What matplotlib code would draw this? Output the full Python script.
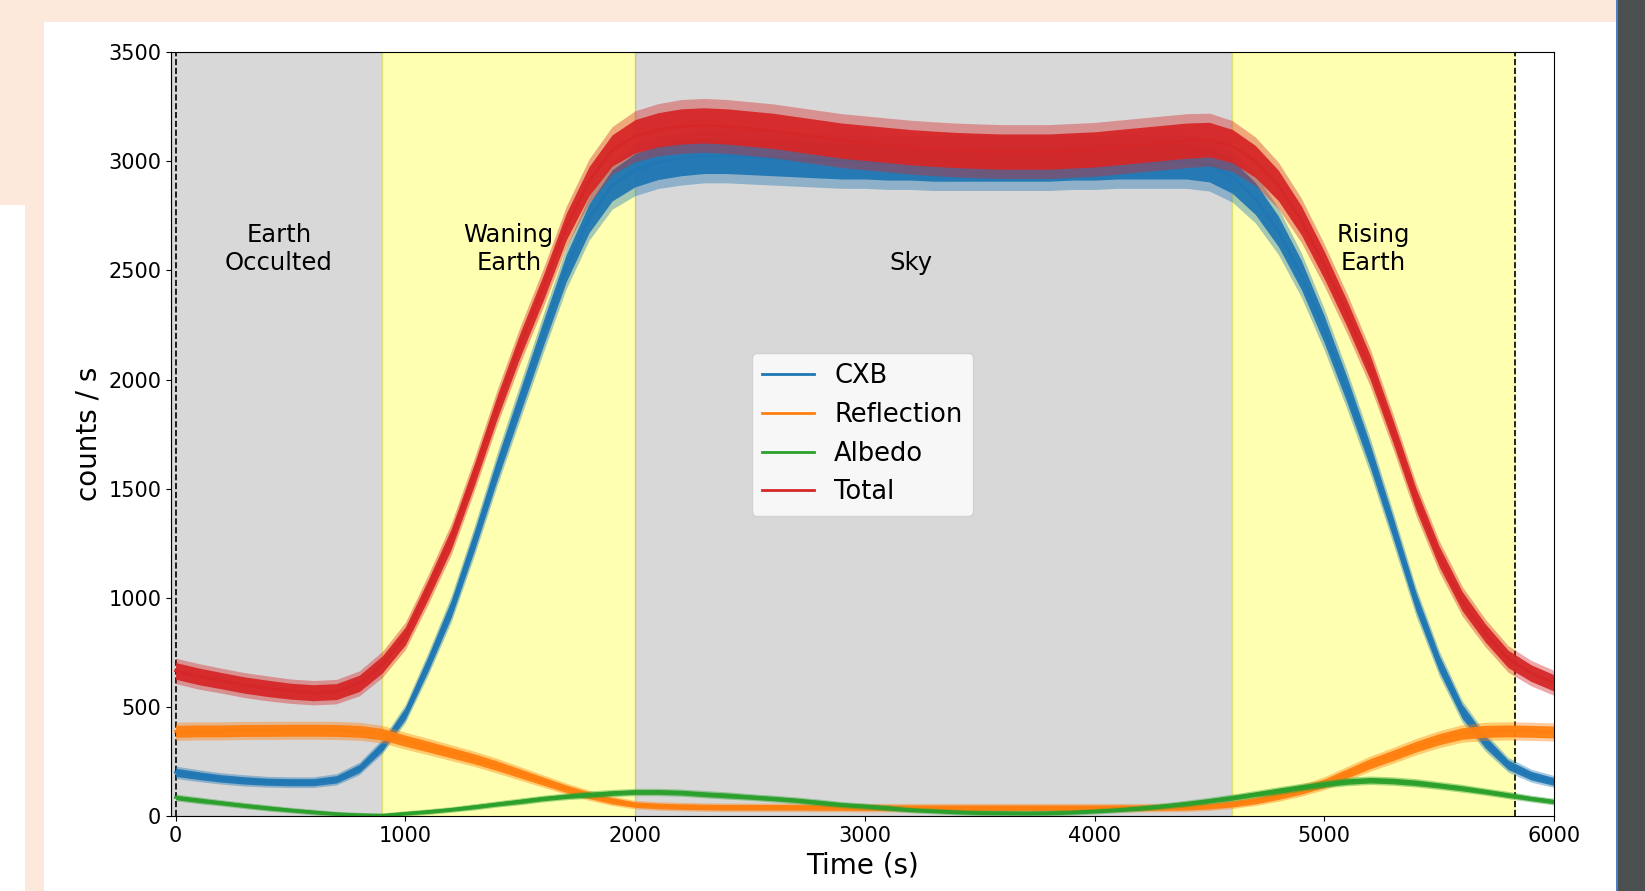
# -*- coding: utf-8 -*-
"""
Count rates through one orbit: CXB, reflection, albedo and total
"""
import numpy as np
import matplotlib.pyplot as plt
from matplotlib.patches import Rectangle

# time grid (s), one reading every 100 s
time_s = np.arange(0, 6001, 100)

# count rates (counts / s)
cxb = [200, 185, 172, 163, 157, 155, 155, 168, 218, 320,
       470, 700, 950, 1260, 1590, 1900, 2210, 2510, 2740, 2890,
       2960, 2995, 3015, 3025, 3025, 3020, 3015, 3010, 3005, 3000,
       3000, 2995, 2995, 2990, 2990, 2990, 2990, 2990, 2990, 2995,
       2995, 3000, 3000, 3000, 3000, 2985, 2930, 2830, 2680, 2480,
       2230, 1950, 1650, 1320, 980, 700, 480, 340, 235, 185,
       158]
reflection = [388, 390, 390, 392, 392, 393, 393, 392, 388, 375,
              345, 318, 290, 262, 230, 195, 160, 125, 95, 70,
              52, 46, 43, 41, 40, 40, 40, 40, 39, 39,
              38, 38, 38, 38, 38, 38, 38, 38, 38, 38,
              38, 38, 38, 39, 40, 45, 55, 70, 92, 118,
              150, 195, 240, 278, 318, 352, 378, 388, 390, 388,
              385]
albedo = [85, 72, 60, 48, 37, 27, 18, 10, 5, 3,
          12, 20, 30, 42, 55, 67, 80, 90, 98, 105,
          110, 110, 107, 100, 94, 87, 80, 72, 62, 52,
          45, 37, 28, 23, 18, 15, 14, 13, 14, 17,
          22, 28, 36, 46, 57, 70, 84, 100, 116, 132,
          146, 158, 164, 160, 152, 140, 127, 112, 96, 80,
          66]
total = [665, 640, 620, 600, 585, 572, 565, 570, 608, 695,
         825, 1040, 1270, 1564, 1875, 2160, 2420, 2700, 2910, 3050,
         3115, 3145, 3160, 3165, 3160, 3150, 3140, 3125, 3110, 3095,
         3085, 3075, 3065, 3058, 3052, 3048, 3045, 3045, 3045, 3050,
         3055, 3065, 3075, 3085, 3095, 3100, 3070, 3000, 2890, 2730,
         2525, 2300, 2055, 1760, 1450, 1190, 985, 840, 720, 655,
         610]

# half width of the noisy band around each curve
cxb_noise = [22, 21, 20, 20, 19, 19, 19, 20, 22, 26,
             32, 40, 46, 52, 58, 63, 68, 73, 78, 84,
             90, 92, 95, 95, 95, 95, 95, 95, 95, 95,
             95, 95, 95, 95, 95, 95, 95, 95, 95, 95,
             95, 95, 95, 95, 95, 93, 90, 86, 82, 78,
             73, 68, 62, 56, 50, 44, 38, 32, 26, 23,
             21]
reflection_noise = [32, 32, 32, 32, 32, 32, 32, 32, 32, 31,
                    30, 29, 28, 27, 26, 24, 22, 20, 18, 17,
                    15, 15, 15, 15, 15, 15, 15, 15, 15, 15,
                    15, 15, 15, 15, 15, 15, 15, 15, 15, 15,
                    15, 15, 15, 15, 15, 15, 16, 17, 19, 21,
                    23, 25, 27, 28, 29, 30, 31, 32, 32, 32,
                    32]
albedo_noise = [12, 12, 11, 11, 11, 10, 10, 9, 9, 9,
                9, 10, 10, 11, 11, 12, 12, 12, 13, 13,
                13, 13, 13, 13, 13, 12, 12, 12, 12, 11,
                11, 11, 10, 10, 10, 10, 10, 10, 10, 10,
                10, 10, 11, 11, 12, 12, 13, 13, 14, 14,
                14, 15, 15, 15, 15, 14, 14, 13, 13, 12,
                12]
total_noise = [45, 45, 44, 44, 44, 43, 43, 43, 44, 46,
               48, 52, 55, 58, 62, 65, 68, 72, 78, 84,
               90, 92, 95, 95, 95, 95, 95, 95, 95, 95,
               95, 95, 95, 95, 95, 95, 95, 95, 95, 95,
               95, 95, 95, 95, 95, 93, 90, 86, 82, 78,
               74, 70, 66, 62, 58, 55, 52, 49, 47, 45,
               44]

series_names = ['CXB', 'Reflection', 'Albedo', 'Total']
series_colors = ['#1f77b4', '#ff7f0e', '#2ca02c', '#d62728']

# orbit phases
phase_edges = [-20, 900, 2000, 4600, 5830]
phase_colors = ['gray', 'yellow', 'gray', 'yellow']
phase_labels = ['Earth\nOcculted', 'Waning\nEarth', 'Sky', 'Rising\nEarth']
phase_label_x = [450, 1450, 3200, 5215]

fig = plt.figure(figsize=(16.45, 8.91), dpi=100)
fig.patch.set_facecolor('#fce9dc')

# page around the figure in the screenshot
fig.add_artist(Rectangle((0.0268, 0), 0.9562, 0.9753, transform=fig.transFigure,
                         facecolor='white', edgecolor='none', zorder=-2))
fig.add_artist(Rectangle((0, 0), 0.0152, 0.7699, transform=fig.transFigure,
                         facecolor='white', edgecolor='none', zorder=-2))
fig.add_artist(Rectangle((0.983, 0), 0.017, 1, transform=fig.transFigure,
                         facecolor='#4b4f4f', edgecolor='none', zorder=-2))
fig.add_artist(Rectangle((0.9826, 0), 0.0012, 1, transform=fig.transFigure,
                         facecolor='#4a7fc4', edgecolor='none', zorder=-1))

ax = fig.add_axes([0.10395, 0.08418, 0.84073, 0.85713])

for i in range(len(phase_colors)):
    ax.axvspan(phase_edges[i], phase_edges[i + 1], color=phase_colors[i],
               alpha=0.3, zorder=0)
    ax.text(phase_label_x[i], 2480, phase_labels[i], ha='center', va='bottom',
            multialignment='center', fontsize=17.5, zorder=1)

ax.axvline(0, color='k', ls='--', lw=1.2, zorder=1)
ax.axvline(5830, color='k', ls='--', lw=1.2, zorder=1)

values = [cxb, reflection, albedo, total]
noise = [cxb_noise, reflection_noise, albedo_noise, total_noise]
for i in range(len(values)):
    v = np.array(values[i])
    s = np.array(noise[i])
    # light fringe for the noise spikes, solid core band
    ax.fill_between(time_s, v - 1.3 * s, v + 1.3 * s, color=series_colors[i],
                    alpha=0.4, lw=0, zorder=2)
    ax.fill_between(time_s, v - 0.85 * s, v + 0.85 * s, color=series_colors[i],
                    alpha=0.95, lw=0, zorder=2)
    ax.plot(time_s, v, color=series_colors[i], lw=2, label=series_names[i],
            zorder=2)

ax.set_xlim(-20, 6000)
ax.set_ylim(0, 3500)
ax.set_xticks(np.arange(0, 6001, 1000))
ax.set_yticks(np.arange(0, 3501, 500))
ax.tick_params(labelsize=15)
ax.set_xlabel('Time (s)', fontsize=20)
ax.set_ylabel('counts / s', fontsize=20)
ax.legend(loc='center', fontsize=18.5)

plt.savefig('out.png', dpi=100, facecolor=fig.get_facecolor())
